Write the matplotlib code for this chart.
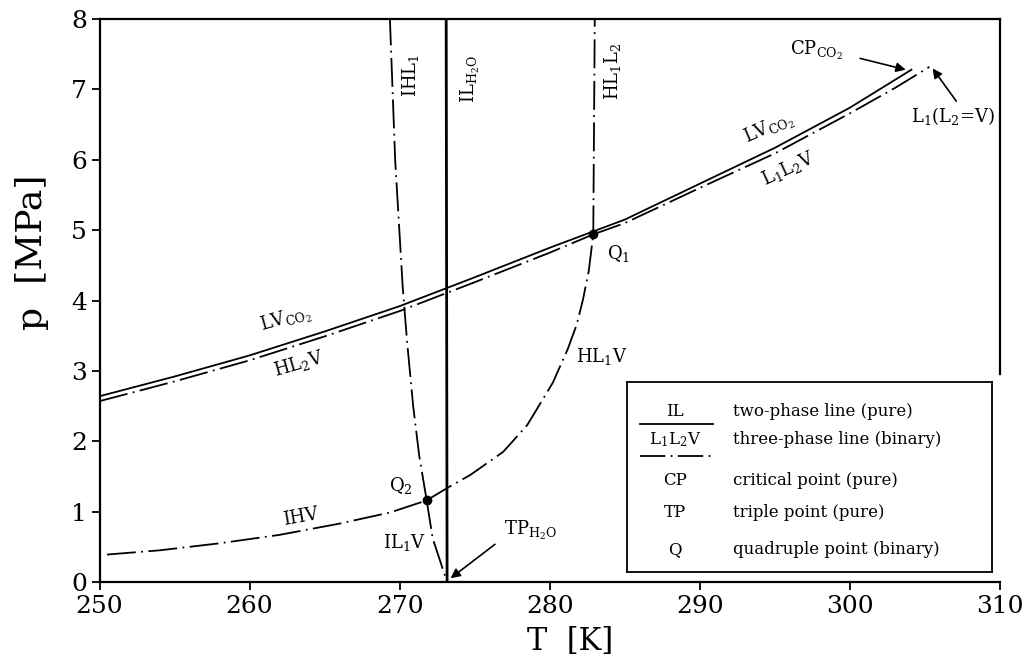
import numpy as np
import matplotlib.pyplot as plt

plt.rcParams['font.family'] = ['DejaVu Serif']
plt.rcParams['mathtext.fontset'] = 'dejavuserif'

# pure two-phase lines (solid)
T_lv = [250, 255, 260, 265, 270, 275, 280, 283, 285, 290, 295, 300, 304.1]
p_lv = [2.64, 2.92, 3.22, 3.56, 3.92, 4.33, 4.75, 4.99, 5.15, 5.66, 6.17, 6.74, 7.28]
T_il = [273.16, 273.1]
p_il = [0.0, 8.0]

# binary three-phase lines (dash-dot)
T_hl2v = [250, 255, 260, 265, 270, 275, 280, 282.9]
p_hl2v = [2.57, 2.85, 3.15, 3.49, 3.85, 4.26, 4.68, 4.94]
T_l1l2v = [282.9, 285, 290, 295, 300, 303, 305.3]
p_l1l2v = [4.94, 5.10, 5.60, 6.09, 6.66, 7.02, 7.32]
T_ihl1 = [271.8, 271.3, 270.9, 270.5, 270.2, 269.7, 269.35]
p_ihl1 = [1.16, 1.8, 2.5, 3.4, 4.2, 6.0, 8.0]
T_hl1l2 = [282.9, 283.0]
p_hl1l2 = [4.94, 8.0]
T_hl1v = [271.8, 273.2, 274.7, 276.9, 278.5, 280.2, 281.2, 281.8, 282.2, 282.6, 282.9]
p_hl1v = [1.16, 1.34, 1.52, 1.85, 2.23, 2.83, 3.31, 3.66, 4.0, 4.42, 4.94]
T_ihv = [250.5, 254, 258, 262, 266, 269.4, 271.8]
p_ihv = [0.39, 0.45, 0.55, 0.67, 0.83, 0.99, 1.16]
T_il1v = [271.8, 272.2, 273.16]
p_il1v = [1.16, 0.62, 0.0]

# quadruple points Q1, Q2
T_q = [282.9, 271.8]
p_q = [4.94, 1.16]

xticks = [250, 260, 270, 280, 290, 300, 310]
yticks = [0, 1, 2, 3, 4, 5, 6, 7, 8]

legend_sym = ['IL', r'L$_1$L$_2$V', 'CP', 'TP', 'Q']
legend_txt = ['two-phase line (pure)', 'three-phase line (binary)',
              'critical point (pure)', 'triple point (pure)',
              'quadruple point (binary)']

fig = plt.figure(figsize=(10.29, 6.65), dpi=100)
ax = fig.add_axes([0.0967, 0.1248, 0.8751, 0.8466])

dd = (16, 3, 1, 3)
lw = 1.3
ax.plot(T_lv, p_lv, color='k', lw=lw)
ax.plot(T_il, p_il, color='k', lw=2.0)
for T, p in [(T_hl2v, p_hl2v), (T_l1l2v, p_l1l2v), (T_ihl1, p_ihl1),
             (T_hl1l2, p_hl1l2), (T_hl1v, p_hl1v), (T_ihv, p_ihv),
             (T_il1v, p_il1v)]:
    ax.plot(T, p, color='k', lw=lw, dashes=dd)
ax.plot(T_q, p_q, 'o', color='k', ms=6)

fs = 13
ax.text(270.7, 7.2, r'IHL$_1$', rotation=90, ha='center', va='center', fontsize=fs)
ax.text(274.7, 7.15, r'IL$_{\rm H_2O}$', rotation=90, ha='center', va='center', fontsize=fs)
ax.text(284.2, 7.25, r'HL$_1$L$_2$', rotation=90, ha='center', va='center', fontsize=fs)
ax.text(262.4, 3.72, r'LV$_{\rm CO_2}$', rotation=16, ha='center', va='center', fontsize=fs)
ax.text(263.3, 3.1, r'HL$_2$V', rotation=16, ha='center', va='center', fontsize=fs)
ax.text(294.6, 6.44, r'LV$_{\rm CO_2}$', rotation=24, ha='center', va='center', fontsize=fs)
ax.text(295.9, 5.87, r'L$_1$L$_2$V', rotation=25, ha='center', va='center', fontsize=fs)
ax.text(297.8, 7.55, r'CP$_{\rm CO_2}$', ha='center', va='center', fontsize=fs)
ax.text(306.9, 6.62, r'L$_1$(L$_2$=V)', ha='center', va='center', fontsize=fs)
ax.text(284.6, 4.67, r'Q$_1$', ha='center', va='center', fontsize=fs)
ax.text(270.1, 1.37, r'Q$_2$', ha='center', va='center', fontsize=fs)
ax.text(283.5, 3.2, r'HL$_1$V', ha='center', va='center', fontsize=fs)
ax.text(263.4, 0.93, 'IHV', rotation=10, ha='center', va='center', fontsize=fs)
ax.text(270.3, 0.56, r'IL$_1$V', ha='center', va='center', fontsize=fs)
ax.text(278.7, 0.73, r'TP$_{\rm H_2O}$', ha='center', va='center', fontsize=fs)

arw = dict(arrowstyle='-|>', color='k', lw=1.2, mutation_scale=14)
ax.annotate('', xy=(303.9, 7.27), xytext=(300.5, 7.45), arrowprops=arw)
ax.annotate('', xy=(305.4, 7.33), xytext=(307.2, 6.8), arrowprops=arw)
ax.annotate('', xy=(273.25, 0.03), xytext=(276.5, 0.56), arrowprops=arw)

ax.set_xlim(250, 310)
ax.set_ylim(0, 8)
ax.set_xticks(xticks)
ax.set_yticks(yticks)
ax.tick_params(labelsize=18, direction='out', length=6, width=1.3, pad=3,
               top=False, right=False)
for s in ax.spines.values():
    s.set_linewidth(1.6)
ax.spines['right'].set_bounds(2.95, 8)

fig.text(0.031, 0.62, 'p  [MPa]', rotation=90, ha='center', va='center', fontsize=26)
fig.text(0.554, 0.035, 'T  [K]', ha='center', va='center', fontsize=22)

# legend box
lax = fig.add_axes([0.6093, 0.1398, 0.3547, 0.2857])
lax.set_xlim(0, 1)
lax.set_ylim(0, 1)
lax.set_xticks([])
lax.set_yticks([])
for s in lax.spines.values():
    s.set_linewidth(1.3)
sym_y = [0.845, 0.695, 0.484, 0.311, 0.116]
for sym, txt, y in zip(legend_sym, legend_txt, sym_y):
    lax.text(0.132, y, sym, ha='center', va='center', fontsize=12)
    lax.text(0.29, y, txt, ha='left', va='center', fontsize=12)
lax.plot([0.036, 0.236], [0.78, 0.78], color='k', lw=1.3)
lax.plot([0.036, 0.236], [0.61, 0.61], color='k', lw=1.3, dashes=(14, 3, 1, 3))

fig.savefig('out.png', dpi=100)
